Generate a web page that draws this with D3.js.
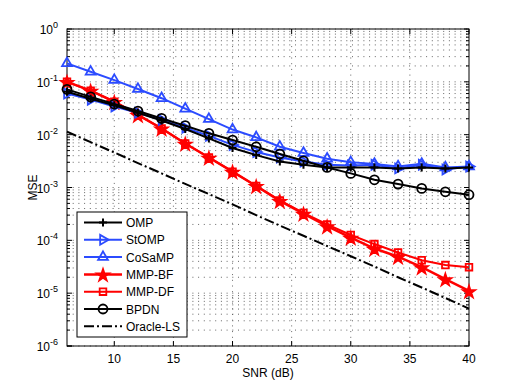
<!DOCTYPE html>
<html>
<head>
<meta charset="utf-8">
<script src="https://cdn.jsdelivr.net/npm/d3@7"></script>
<style>
  body { margin: 0; background: #fff; }
  text { font-family: "Liberation Sans", Arial, sans-serif; }
</style>
</head>
<body>
<div id="chart"></div>
<script>
// SNR points (dB)
const snr = [6, 8, 10, 12, 14, 16, 18, 20, 22, 24, 26, 28, 30, 32, 34, 36, 38, 40];

// MSE values
const omp    = [0.065, 0.048, 0.036, 0.026, 0.0185, 0.0128, 0.0085, 0.0056, 0.0041, 0.0031, 0.0027, 0.0024, 0.0024, 0.0024, 0.0023, 0.0024, 0.0023, 0.0024];
const stomp  = [0.060, 0.046, 0.034, 0.026, 0.019, 0.0135, 0.0095, 0.0064, 0.0047, 0.0037, 0.0031, 0.0027, 0.0026, 0.0027, 0.0023, 0.0027, 0.0022, 0.0025];
const cosamp = [0.224, 0.155, 0.108, 0.073, 0.049, 0.031, 0.0197, 0.0125, 0.0089, 0.0059, 0.0045, 0.0035, 0.0030, 0.0028, 0.0025, 0.0028, 0.0024, 0.0025];
const mmpBF  = [0.100, 0.068, 0.042, 0.0236, 0.0131, 0.0068, 0.0037, 0.0020, 0.00107, 0.00056, 0.00032, 0.000185, 0.000113, 0.000070, 0.000049, 0.000031, 0.0000185, 0.0000110];
const mmpDF  = [0.100, 0.068, 0.042, 0.0236, 0.0131, 0.0068, 0.0037, 0.0020, 0.00107, 0.00057, 0.00033, 0.000200, 0.000126, 0.000085, 0.000059, 0.000042, 0.000034, 0.000031];
const bpdn   = [0.072, 0.052, 0.038, 0.028, 0.0203, 0.0148, 0.0106, 0.0079, 0.0059, 0.0043, 0.0032, 0.0024, 0.00185, 0.0014, 0.00116, 0.00096, 0.00083, 0.00073];
const oracle = [0.0114, 0.0072, 0.0046, 0.0029, 0.00185, 0.00117, 0.00075, 0.00048, 0.00030, 0.00019, 0.000122, 0.000078, 0.000050, 0.000032, 0.000020, 0.0000128, 0.0000081, 0.0000051];

const xTicks = [10, 15, 20, 25, 30, 35, 40];
const yDecades = [-6, -5, -4, -3, -2, -1, 0];

const blue = "#2b4bff";
const series = [
  { name: "OMP",       values: omp,    color: "#000", width: 2,   symbol: "plus" },
  { name: "StOMP",     values: stomp,  color: blue,   width: 2,   symbol: "right" },
  { name: "CoSaMP",    values: cosamp, color: blue,   width: 2,   symbol: "up" },
  { name: "MMP-BF",    values: mmpBF,  color: "red",  width: 2.5, symbol: "star" },
  { name: "MMP-DF",    values: mmpDF,  color: "red",  width: 2,   symbol: "square" },
  { name: "BPDN",      values: bpdn,   color: "#000", width: 2,   symbol: "circle" },
  { name: "Oracle-LS", values: oracle, color: "#000", width: 2,   symbol: null, dash: "10,3,2,3" }
];

const W = 518, H = 390;
const margin = { top: 29, right: 49, bottom: 44, left: 67 };
const width = W - margin.left - margin.right;
const height = H - margin.top - margin.bottom;

const svg = d3.select("#chart").append("svg")
  .attr("width", W).attr("height", H);

const g = svg.append("g")
  .attr("transform", `translate(${margin.left},${margin.top})`);

const x = d3.scaleLinear().domain([6, 40]).range([0, width]);
const y = d3.scaleLog().domain([1e-6, 1]).range([height, 0]);

// grid: minor + major horizontal lines (log), vertical at major x ticks
const yGrid = [];
yDecades.forEach(p => {
  if (p < 0) for (let k = 1; k <= 9; k++) yGrid.push(k * Math.pow(10, p));
});
yGrid.push(1);

g.selectAll(".hgrid").data(yGrid).enter().append("line")
  .attr("x1", 0).attr("x2", width)
  .attr("y1", d => y(d)).attr("y2", d => y(d))
  .attr("stroke", "#666").attr("stroke-width", 1)
  .attr("stroke-dasharray", "1,4.7");

g.selectAll(".vgrid").data(xTicks.slice(0, -1)).enter().append("line")
  .attr("x1", d => x(d)).attr("x2", d => x(d))
  .attr("y1", 0).attr("y2", height)
  .attr("stroke", "#666").attr("stroke-width", 1)
  .attr("stroke-dasharray", "1,4.7");

// ticks, inward on all sides
const xt = g.append("g");
xTicks.forEach(t => {
  xt.append("line").attr("x1", x(t)).attr("x2", x(t)).attr("y1", height).attr("y2", height - 5).attr("stroke", "#000");
  xt.append("line").attr("x1", x(t)).attr("x2", x(t)).attr("y1", 0).attr("y2", 5).attr("stroke", "#000");
  xt.append("text").attr("x", x(t)).attr("y", height + 17)
    .attr("text-anchor", "middle").attr("font-size", 12).text(t);
});

yGrid.forEach(v => {
  const major = Math.abs(Math.log10(v) - Math.round(Math.log10(v))) < 1e-9;
  const len = major ? 5 : 3;
  g.append("line").attr("x1", 0).attr("x2", len).attr("y1", y(v)).attr("y2", y(v)).attr("stroke", "#000");
  g.append("line").attr("x1", width).attr("x2", width - len).attr("y1", y(v)).attr("y2", y(v)).attr("stroke", "#000");
});
g.append("line").attr("x1", 0).attr("x2", 5).attr("y1", y(1e-6)).attr("y2", y(1e-6)).attr("stroke", "#000");

yDecades.forEach(p => {
  const t = g.append("text")
    .attr("x", -9).attr("y", y(Math.pow(10, p)) + 5)
    .attr("text-anchor", "end").attr("font-size", 12);
  t.append("tspan").text("10");
  t.append("tspan").attr("dy", -6).attr("font-size", 9).text(p);
});

// axis box
g.append("rect").attr("x", 0).attr("y", 0).attr("width", width).attr("height", height)
  .attr("fill", "none").attr("stroke", "#000").attr("stroke-width", 1);

// axis labels
svg.append("text").attr("x", margin.left + width / 2).attr("y", H - 13)
  .attr("text-anchor", "middle").attr("font-size", 12).text("SNR (dB)");
svg.append("text")
  .attr("transform", `translate(37,${margin.top + height / 2}) rotate(-90)`)
  .attr("text-anchor", "middle").attr("font-size", 12).text("MSE");

// markers
function drawMarker(sel, type, color, cx, cy) {
  if (type === "plus") {
    sel.append("path").attr("d", `M${cx - 4},${cy}H${cx + 4}M${cx},${cy - 4}V${cy + 4}`)
      .attr("stroke", color).attr("stroke-width", 2).attr("fill", "none");
  } else if (type === "up" || type === "right") {
    sel.append("path").attr("d", d3.symbol(d3.symbolTriangle, 42)())
      .attr("transform", `translate(${cx},${cy}) rotate(${type === "right" ? 90 : 0})`)
      .attr("fill", "none").attr("stroke", color).attr("stroke-width", 1.8);
  } else if (type === "star") {
    sel.append("path").attr("d", d3.symbol(d3.symbolStar, 52)())
      .attr("transform", `translate(${cx},${cy + 1})`)
      .attr("fill", color).attr("stroke", color).attr("stroke-width", 1.5);
  } else if (type === "square") {
    sel.append("path").attr("d", d3.symbol(d3.symbolSquare, 44)())
      .attr("transform", `translate(${cx},${cy})`)
      .attr("fill", "none").attr("stroke", color).attr("stroke-width", 1.8);
  } else if (type === "circle") {
    sel.append("circle").attr("cx", cx).attr("cy", cy).attr("r", 4.5)
      .attr("fill", "none").attr("stroke", color).attr("stroke-width", 1.8);
  }
}

const line = d3.line().x(d => x(d[0])).y(d => y(d[1]));

// draw order so OMP/BPDN sit on top of the coloured lines
const order = [6, 4, 3, 2, 1, 0, 5];
order.forEach(i => {
  const s = series[i];
  const pts = snr.map((v, j) => [v, s.values[j]]);
  const sg = g.append("g");
  sg.append("path").datum(pts).attr("d", line)
    .attr("fill", "none").attr("stroke", s.color).attr("stroke-width", s.width)
    .attr("stroke-dasharray", s.dash || null);
  if (s.symbol) pts.forEach(p => drawMarker(sg, s.symbol, s.color, x(p[0]), y(p[1])));
});

// legend
const lg = svg.append("g").attr("transform", "translate(77,212)");
lg.append("rect").attr("width", 110).attr("height", 125)
  .attr("fill", "#fff").attr("stroke", "#000").attr("stroke-width", 1);
series.forEach((s, i) => {
  const ly = 10.5 + i * 17.3;
  lg.append("line").attr("x1", 7).attr("x2", 45).attr("y1", ly).attr("y2", ly)
    .attr("stroke", s.color).attr("stroke-width", s.width)
    .attr("stroke-dasharray", s.dash || null);
  if (s.symbol) drawMarker(lg, s.symbol, s.color, 26, ly);
  lg.append("text").attr("x", 49).attr("y", ly + 4.5).attr("font-size", 12).text(s.name);
});
</script>
</body>
</html>
